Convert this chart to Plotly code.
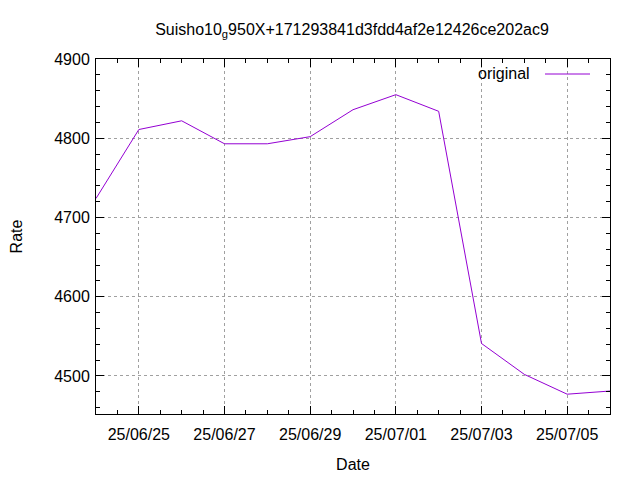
import plotly.graph_objects as go

dates = ["2025-06-24", "2025-06-25", "2025-06-26", "2025-06-27", "2025-06-28",
         "2025-06-29", "2025-06-30", "2025-07-01", "2025-07-02", "2025-07-03",
         "2025-07-04", "2025-07-05", "2025-07-06"]
rates = [4724, 4811, 4822, 4793, 4793, 4802, 4836, 4855, 4834, 4541, 4502, 4477, 4481]
series_name = "original"
title_text = "Suisho10<sub>g</sub>950X+171293841d3fdd4af2e12426ce202ac9"

FONT = "Liberation Sans, Arial, sans-serif"
FS = 16
LINE_COLOR = "#9400D3"

fig = go.Figure()
fig.add_trace(go.Scatter(x=dates, y=rates, mode="lines", name=series_name,
                         line=dict(color=LINE_COLOR, width=1), showlegend=False))
# invisible copy to carry the mirrored (top/right) tick axes
fig.add_trace(go.Scatter(x=dates, y=rates, mode="lines", xaxis="x2", yaxis="y2",
                         line=dict(color="rgba(0,0,0,0)", width=1), showlegend=False,
                         hoverinfo="skip"))

xrange = ["2025-06-24", "2025-07-06"]
yrange = [4452, 4900]

common = dict(
    showline=True, linecolor="black", linewidth=1,
    ticks="inside", ticklen=8, tickcolor="black", tickwidth=1,
    zeroline=False, automargin=False,
    tickfont=dict(family=FONT, size=FS, color="black"),
)
xcommon = dict(range=xrange, type="date", tick0="2025-06-25", dtick=2 * 86400000,
               tickformat="%y/%m/%d",
               minor=dict(dtick=12 * 3600000, ticks="inside", ticklen=4,
                          tickcolor="black", showgrid=False))
ycommon = dict(range=yrange, tick0=4500, dtick=100,
               minor=dict(dtick=20, ticks="inside", ticklen=4,
                          tickcolor="black", showgrid=False))

fig.update_layout(
    xaxis=dict(**common, **xcommon, showgrid=True, gridcolor="#a0a0a0", griddash="dot",
               gridwidth=1, ticklabelstandoff=6,
               title=dict(text="Date", font=dict(family=FONT, size=FS, color="black"),
                          standoff=16)),
    yaxis=dict(**common, **ycommon, showgrid=True, gridcolor="#a0a0a0", griddash="dot",
               gridwidth=1, ticklabelstandoff=2,
               title=dict(text="Rate", font=dict(family=FONT, size=FS, color="black"),
                          standoff=38)),
    xaxis2=dict(**common, **xcommon, overlaying="x", side="top", anchor="y",
                showticklabels=False, showgrid=False),
    yaxis2=dict(**common, **ycommon, overlaying="y", side="right", anchor="x",
                showticklabels=False, showgrid=False),
)

# page body has an 8px margin, so the figure is drawn 8px right/down
W, H = 632, 472
L, R, T, B = 88, 30, 51, 66
PW, PH = W - L - R, H - T - B

# gnuplot-style key: text then line sample at the right (screen coords from reference)
ky = 1 - (74 - 8 - T) / PH
fig.add_annotation(x=(532 - 8 - L) / PW, y=ky, xref="paper", yref="paper",
                   text=series_name, showarrow=False, xanchor="right", yanchor="middle",
                   font=dict(family=FONT, size=FS, color="black"))
fig.add_shape(type="line", xref="paper", yref="paper",
              x0=(545 - 8 - L) / PW, x1=(590 - 8 - L) / PW, y0=ky, y1=ky,
              line=dict(color=LINE_COLOR, width=1))

fig.update_layout(
    width=W, height=H,
    margin=dict(l=L, r=R, t=T, b=B),
    paper_bgcolor="white", plot_bgcolor="white",
    title=dict(text=title_text, x=(352 - 8) / W, xanchor="center", yref="container",
               y=1 - (29 - 8) / H, yanchor="middle",
               font=dict(family=FONT, size=FS, color="black")),
    font=dict(family=FONT, size=FS, color="black"),
)

fig.write_html("out.html")
